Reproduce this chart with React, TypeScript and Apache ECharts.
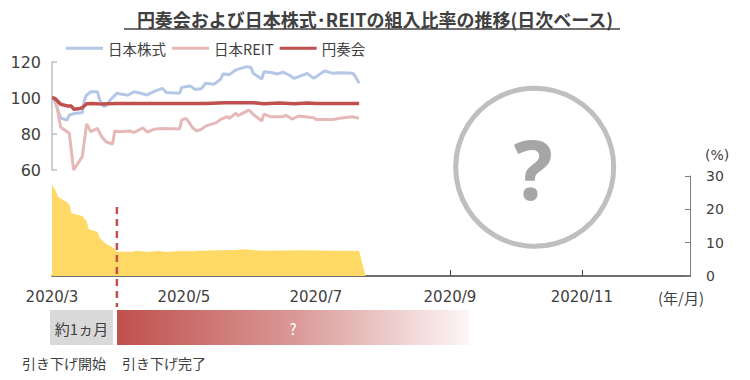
import React, { useEffect, useRef } from "react";
import * as echarts from "echarts";

const TITLE = "円奏会および日本株式･REITの組入比率の推移(日次ベース)";
const SERIES_NAMES = ["日本株式", "日本REIT", "円奏会"];
const AXIS_START = "2020-03-01";
const AXIS_END = "2020-12-21";
const TICK_DATES = ["2020-03-01", "2020-05-01", "2020-07-01", "2020-09-01", "2020-11-01"];
const CUT_DONE_DATE = "2020-03-31";
const LINE_Y_TICKS = { min: 60, max: 120, interval: 20 };
const AREA_Y_TICKS = { min: 0, max: 30, interval: 10 };

const japanStock: [string, number][] = [
  ["2020-03-01", 100], ["2020-03-02", 99], ["2020-03-05", 88.9], ["2020-03-08", 87.8],
  ["2020-03-09", 90.6], ["2020-03-12", 91.5], ["2020-03-15", 91.8], ["2020-03-16", 98.9],
  ["2020-03-17", 101.7], ["2020-03-19", 103.5], ["2020-03-22", 103.5], ["2020-03-23", 98.9],
  ["2020-03-25", 95.2], ["2020-03-26", 95.8], ["2020-03-28", 99], ["2020-03-31", 102.6],
  ["2020-04-03", 102], ["2020-04-05", 101.5], ["2020-04-08", 103.5], ["2020-04-11", 102.6],
  ["2020-04-14", 101.7], ["2020-04-17", 103.5], ["2020-04-21", 105.4], ["2020-04-23", 103],
  ["2020-04-29", 102.6], ["2020-04-30", 105.9], ["2020-05-04", 106.7], ["2020-05-06", 104.8],
  ["2020-05-09", 105.1], ["2020-05-11", 108.2], ["2020-05-15", 107.7], ["2020-05-18", 110.4],
  ["2020-05-19", 113.3], ["2020-05-22", 113], ["2020-05-25", 115.6], ["2020-05-30", 117.4],
  ["2020-06-01", 117], ["2020-06-02", 113.7], ["2020-06-06", 110.5], ["2020-06-07", 114.6],
  ["2020-06-11", 114], ["2020-06-13", 113.3], ["2020-06-16", 114.3], ["2020-06-19", 112.5],
  ["2020-06-21", 110.9], ["2020-06-27", 113.7], ["2020-06-30", 110.9], ["2020-07-05", 115],
  ["2020-07-09", 113.7], ["2020-07-12", 114], ["2020-07-18", 113.7], ["2020-07-19", 112.5],
  ["2020-07-21", 108.2],
];

const japanReit: [string, number][] = [
  ["2020-03-01", 100], ["2020-03-02", 100], ["2020-03-03", 97], ["2020-03-05", 83.7],
  ["2020-03-09", 80.4], ["2020-03-11", 60], ["2020-03-15", 67.4], ["2020-03-17", 85.6],
  ["2020-03-19", 81.3], ["2020-03-22", 83.1], ["2020-03-24", 78.5], ["2020-03-26", 75.7],
  ["2020-03-29", 74.4], ["2020-03-30", 81.7], ["2020-04-01", 81.3], ["2020-04-06", 81.7],
  ["2020-04-08", 80.8], ["2020-04-12", 83.5], ["2020-04-14", 81.1], ["2020-04-17", 82.6],
  ["2020-04-21", 83.1], ["2020-04-29", 82.8], ["2020-04-30", 87.8], ["2020-05-02", 88.7],
  ["2020-05-05", 83.5], ["2020-05-07", 81.7], ["2020-05-09", 82.6], ["2020-05-11", 84.4],
  ["2020-05-16", 86.3], ["2020-05-18", 88.1], ["2020-05-21", 89.6], ["2020-05-22", 88.7],
  ["2020-05-25", 91.5], ["2020-05-26", 90.2], ["2020-05-31", 93.3], ["2020-06-02", 91],
  ["2020-06-06", 87.2], ["2020-06-07", 91.1], ["2020-06-10", 89.6], ["2020-06-16", 89.6],
  ["2020-06-17", 90.5], ["2020-06-20", 88.3], ["2020-06-23", 90], ["2020-06-30", 89],
  ["2020-07-01", 88.1], ["2020-07-09", 88.1], ["2020-07-12", 88.7], ["2020-07-18", 89.6],
  ["2020-07-21", 88.7],
];

const enSoukai: [string, number][] = [
  ["2020-03-01", 100], ["2020-03-02", 100], ["2020-03-03", 99], ["2020-03-05", 96.5],
  ["2020-03-08", 95.6], ["2020-03-10", 95.5], ["2020-03-11", 93.7], ["2020-03-14", 94.2],
  ["2020-03-15", 94.6], ["2020-03-17", 96.8], ["2020-03-20", 97], ["2020-03-24", 96.6],
  ["2020-03-31", 97], ["2020-05-11", 97], ["2020-05-20", 97.4], ["2020-06-02", 97.4],
  ["2020-06-07", 96.8], ["2020-06-14", 97.2], ["2020-06-21", 96.8], ["2020-06-27", 97.2],
  ["2020-07-01", 96.9], ["2020-07-21", 96.9],
];

const ratioArea: [string, number][] = [
  ["2020-03-01", 27.3], ["2020-03-02", 26.5], ["2020-03-04", 23.6], ["2020-03-08", 22.1],
  ["2020-03-09", 21.5], ["2020-03-10", 18.8], ["2020-03-15", 18], ["2020-03-17", 16.5],
  ["2020-03-18", 14], ["2020-03-22", 13.3], ["2020-03-23", 11.5], ["2020-03-26", 9.6],
  ["2020-03-29", 8.6], ["2020-03-31", 7.3], ["2020-04-07", 7.3], ["2020-04-09", 7.6],
  ["2020-04-14", 7.2], ["2020-04-19", 7.5], ["2020-04-23", 7.2], ["2020-04-29", 7.5],
  ["2020-05-05", 7.4], ["2020-05-08", 7.6], ["2020-05-16", 7.7], ["2020-05-24", 7.8],
  ["2020-05-30", 8.0], ["2020-06-01", 7.8], ["2020-06-07", 7.6], ["2020-06-24", 7.7],
  ["2020-07-09", 7.6], ["2020-07-21", 7.5], ["2020-07-24", 0],
];

const BAR_LEFT_TEXT = "約1ヵ月";
const BAR_RIGHT_TEXT = "?";
const LABEL_START = "引き下げ開始";
const LABEL_DONE = "引き下げ完了";
const UNIT_PCT = "(%)";
const UNIT_DATE = "(年/月)";
const BIG_MARK = "?";

const COLORS = { stock: "#b4c7e7", reit: "#e6b9b8", ensoukai: "#c0504d", area: "#ffd966" };
const TEXT = "#404040";
const NUM_FONT = "'DejaVu Sans', 'Noto Sans CJK JP', sans-serif";
const JP_FONT = "'Noto Sans CJK JP', sans-serif";

const ts = (s: string) => {
  const [y, m, d] = s.split("-").map(Number);
  return new Date(y, m - 1, d).getTime();
};
const toPts = (arr: [string, number][]) => arr.map(([d, v]) => [ts(d), v]);

export default function App() {
  const ref = useRef<HTMLDivElement>(null);
  useEffect(() => {
    if (!ref.current) return;
    const chart = echarts.init(ref.current, null, { renderer: "svg" });
    const ticks = TICK_DATES.map(ts);
    const xMin = ts(AXIS_START);
    const xMax = ts(AXIS_END);
    chart.setOption({
      animation: false,
      backgroundColor: "#ffffff",
      title: {
        text: TITLE,
        left: "center",
        top: 5,
        textStyle: { fontSize: 18, fontWeight: "bold", color: TEXT, fontFamily: JP_FONT },
      },
      legend: {
        data: SERIES_NAMES,
        left: 61,
        top: 36,
        icon: "rect",
        itemWidth: 37,
        itemHeight: 3,
        itemGap: 6,
        textStyle: { fontSize: 14.5, color: TEXT, fontFamily: JP_FONT },
      },
      grid: [
        { left: 52, top: 62, width: 638, height: 108 },
        { left: 52, top: 176, width: 638, height: 100 },
      ],
      xAxis: [
        { type: "value", gridIndex: 0, min: xMin, max: xMax, show: false },
        {
          type: "value",
          gridIndex: 1,
          min: xMin,
          max: xMax,
          axisLine: { lineStyle: { color: TEXT, width: 1.5 } },
          axisTick: { show: true, inside: true, length: 6, customValues: ticks, lineStyle: { color: TEXT } },
          axisLabel: {
            customValues: ticks,
            formatter: (v: number) => {
              const d = new Date(v);
              return `${d.getFullYear()}/${d.getMonth() + 1}`;
            },
            margin: 13,
            fontSize: 15,
            color: TEXT,
            fontFamily: NUM_FONT,
          },
          splitLine: { show: false },
        },
      ],
      yAxis: [
        {
          type: "value",
          gridIndex: 0,
          position: "left",
          ...LINE_Y_TICKS,
          axisLine: { show: true, lineStyle: { color: "#bfbfbf", width: 1.5 } },
          axisTick: { show: true, inside: true, length: 5, lineStyle: { color: "#bfbfbf", width: 1.5 } },
          axisLabel: { margin: 11, fontSize: 16, color: TEXT, fontFamily: NUM_FONT },
          splitLine: { show: false },
        },
        {
          type: "value",
          gridIndex: 1,
          position: "right",
          ...AREA_Y_TICKS,
          axisLine: { show: true, lineStyle: { color: "#7f7f7f", width: 1 } },
          axisTick: { show: true, inside: true, length: 5, lineStyle: { color: "#7f7f7f" } },
          axisLabel: { margin: 16, fontSize: 14, color: TEXT, fontFamily: NUM_FONT },
          splitLine: { show: false },
        },
      ],
      series: [
        {
          name: "ratio",
          type: "line",
          xAxisIndex: 1,
          yAxisIndex: 1,
          data: toPts(ratioArea),
          showSymbol: false,
          lineStyle: { width: 0 },
          areaStyle: { color: COLORS.area, opacity: 1 },
          color: COLORS.area,
          z: 1,
        },
        {
          name: SERIES_NAMES[0],
          type: "line",
          xAxisIndex: 0,
          yAxisIndex: 0,
          data: toPts(japanStock),
          showSymbol: false,
          color: COLORS.stock,
          lineStyle: { width: 3 },
          z: 2,
        },
        {
          name: SERIES_NAMES[1],
          type: "line",
          xAxisIndex: 0,
          yAxisIndex: 0,
          data: toPts(japanReit),
          showSymbol: false,
          color: COLORS.reit,
          lineStyle: { width: 3 },
          z: 3,
        },
        {
          name: SERIES_NAMES[2],
          type: "line",
          xAxisIndex: 0,
          yAxisIndex: 0,
          data: toPts(enSoukai),
          showSymbol: false,
          color: COLORS.ensoukai,
          lineStyle: { width: 3.5 },
          z: 4,
        },
      ],
    });

    const xDash = chart.convertToPixel({ xAxisIndex: 1 }, ts(CUT_DONE_DATE)) as number;
    chart.setOption({
      graphic: [
        { type: "line", shape: { x1: 124, y1: 29, x2: 620, y2: 29 }, style: { stroke: TEXT, lineWidth: 1.5 } },
        {
          type: "circle",
          shape: { cx: 534.7, cy: 167.3, r: 79 },
          style: { fill: "none", stroke: "#bfbfbf", lineWidth: 5 },
        },
        {
          type: "text",
          x: 533,
          y: 168,
          style: {
            text: BIG_MARK,
            fontSize: 82,
            fontWeight: "bold",
            fontFamily: "'Noto Sans', sans-serif",
            fill: "#a6a6a6",
            align: "center",
            verticalAlign: "middle",
          },
        },
        {
          type: "text",
          x: 705,
          y: 155,
          style: { text: UNIT_PCT, fontSize: 14, fontFamily: NUM_FONT, fill: TEXT, align: "left", verticalAlign: "middle" },
        },
        {
          type: "text",
          x: 681,
          y: 297,
          style: { text: UNIT_DATE, fontSize: 15, fontFamily: JP_FONT, fill: TEXT, align: "center", verticalAlign: "middle" },
        },
        {
          type: "line",
          shape: { x1: xDash, y1: 207, x2: xDash, y2: 307 },
          style: { stroke: COLORS.ensoukai, lineWidth: 2.5, lineDash: [7, 5] },
          z: 10,
        },
        { type: "rect", shape: { x: 50, y: 310, width: 63, height: 35 }, style: { fill: "#d9d9d9" } },
        {
          type: "text",
          x: 81.5,
          y: 328,
          style: { text: BAR_LEFT_TEXT, fontSize: 15, fontFamily: JP_FONT, fill: TEXT, align: "center", verticalAlign: "middle" },
        },
        {
          type: "rect",
          shape: { x: 117, y: 310, width: 353, height: 35 },
          style: {
            fill: new echarts.graphic.LinearGradient(0, 0, 1, 0, [
              { offset: 0, color: "#c0504d" },
              { offset: 0.5, color: "#d99896" },
              { offset: 1, color: "#fdf7f7" },
            ]),
          },
        },
        {
          type: "text",
          x: 293,
          y: 328,
          style: { text: BAR_RIGHT_TEXT, fontSize: 15, fontFamily: JP_FONT, fill: "#ffffff", align: "center", verticalAlign: "middle" },
        },
        {
          type: "text",
          x: 64,
          y: 363,
          style: { text: LABEL_START, fontSize: 14, fontFamily: JP_FONT, fill: TEXT, align: "center", verticalAlign: "middle" },
        },
        {
          type: "text",
          x: 122,
          y: 363,
          style: { text: LABEL_DONE, fontSize: 14, fontFamily: JP_FONT, fill: TEXT, align: "left", verticalAlign: "middle" },
        },
      ],
    });
    return () => chart.dispose();
  }, []);
  return (
    <div
      ref={ref}
      style={{ position: "absolute", left: 0, top: 0, width: 750, height: 380, background: "#fff" }}
    />
  );
}
